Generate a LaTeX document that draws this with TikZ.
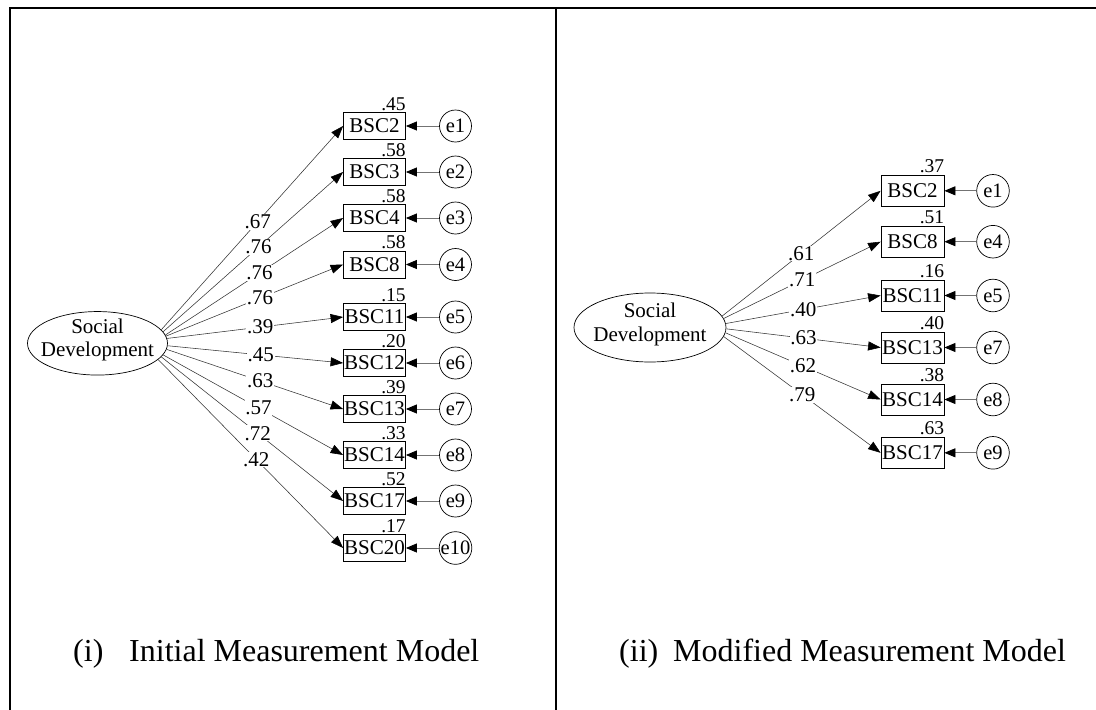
\documentclass[tikz,border=0pt]{standalone}
\usepackage{fontspec}
\setmainfont{Liberation Serif}
\usetikzlibrary{arrows.meta,shapes.geometric}
\begin{document}
\begin{tikzpicture}[x=1pt,y=-1pt,
  obsL/.style={draw, line width=0.8pt, minimum width=62pt, minimum height=27pt, inner sep=0pt, font=\fontsize{21}{21}\selectfont},
  obsR/.style={obsL, minimum width=63pt, minimum height=31pt},
  err/.style={draw, circle, line width=0.7pt, minimum size=32pt, inner sep=0pt, font=\fontsize{20.5}{20.5}\selectfont},
  lat/.style={draw, ellipse, line width=0.7pt, inner sep=0pt},
  load/.style={draw=black!80, line width=0.55pt, -{Triangle[length=12.5pt,width=9pt,color=black]}},
  erra/.style={draw=black!55, line width=0.8pt, -{Triangle[length=11pt,width=9pt,color=black]}},
  coef/.style={fill=white, inner sep=0.8pt, font=\fontsize{21}{21}\selectfont},
  rsq/.style={anchor=base east, inner sep=0pt, yshift=2pt, font=\fontsize{19.5}{19.5}\selectfont},
  frameline/.style={line width=2.2pt, line cap=rect},
  captxt/.style={anchor=base west, inner sep=0pt, font=\fontsize{32}{32}\selectfont}
]
\useasboundingbox (0,0) rectangle (1096,710);

% frame
\draw[frameline] (10,710) -- (10,8) -- (1096,8);
\draw[frameline] (556,8) -- (556,710);

% ---------- left panel ----------
\node[lat, minimum width=140pt, minimum height=63.5pt] (SL) at (97.5,343.3)
  {\raisebox{-4.5pt}{\makebox[0pt]{\smash{\fontsize{21}{23.5}\selectfont\begin{tabular}{@{}c@{}}Social\\Development\end{tabular}}}}};

\foreach \n/\lab/\y/\e/\c/\r/\a in {
  1/BSC2/126/e1/.67/.45/12.5,
  2/BSC3/172/e2/.76/.58/10,
  3/BSC4/218/e3/.76/.58/7.8,
  4/BSC8/264.5/e4/.76/.58/6.1,
  5/BSC11/317/e5/.39/.15/4.1,
  6/BSC12/363/e6/.45/.20/-2,
  7/BSC13/409/e7/.63/.39/-5.6,
  8/BSC14/455/e8/.57/.33/-10,
  9/BSC17/501/e9/.72/.52/-12.9,
  10/BSC20/548/e10/.42/.17/-15}{
  \node[obsL] (LB\n) at (374.5,\y) {\lab};
  \node[err] (LE\n) at (455.5,\y) {\e};
  \node[rsq] (LR\n) at (LB\n.north east) {\r};
  \draw[load] (SL.\a) -- (LB\n.west) node[coef, pos=0.53] (LC\n) {\c};
  \draw[erra] (LE\n) -- (LB\n);
}

\node[captxt] (capL) at (73,661) {\makebox[56pt][l]{(i)}Initial Measurement Model};

% ---------- right panel ----------
\node[lat, minimum width=152pt, minimum height=69pt] (SR) at (650,327.5)
  {\raisebox{-4.5pt}{\makebox[0pt]{\smash{\fontsize{21}{24}\selectfont\begin{tabular}{@{}c@{}}Social\\Development\end{tabular}}}}};

\foreach \n/\lab/\y/\e/\c/\r/\a in {
  1/BSC2/190.8/e1/.61/.37/9.4,
  2/BSC8/241.7/e4/.71/.51/7.2,
  3/BSC11/295.5/e5/.40/.16/3.4,
  4/BSC13/347.5/e7/.63/.40/-1.9,
  5/BSC14/399.5/e8/.62/.38/-4,
  6/BSC17/452.8/e9/.79/.63/-7}{
  \node[obsR] (RB\n) at (912.5,\y) {\lab};
  \node[err, minimum size=32.6pt] (RE\n) at (993,\y) {\e};
  \node[rsq] (RR\n) at (RB\n.north east) {\r};
  \draw[load] (SR.\a) -- (RB\n.west) node[coef, pos=0.5] (RC\n) {\c};
  \draw[erra] (RE\n) -- (RB\n);
}

\node[captxt] (capR) at (619,661) {\makebox[54pt][l]{(ii)}Modified Measurement Model};
\end{tikzpicture}
\end{document}
